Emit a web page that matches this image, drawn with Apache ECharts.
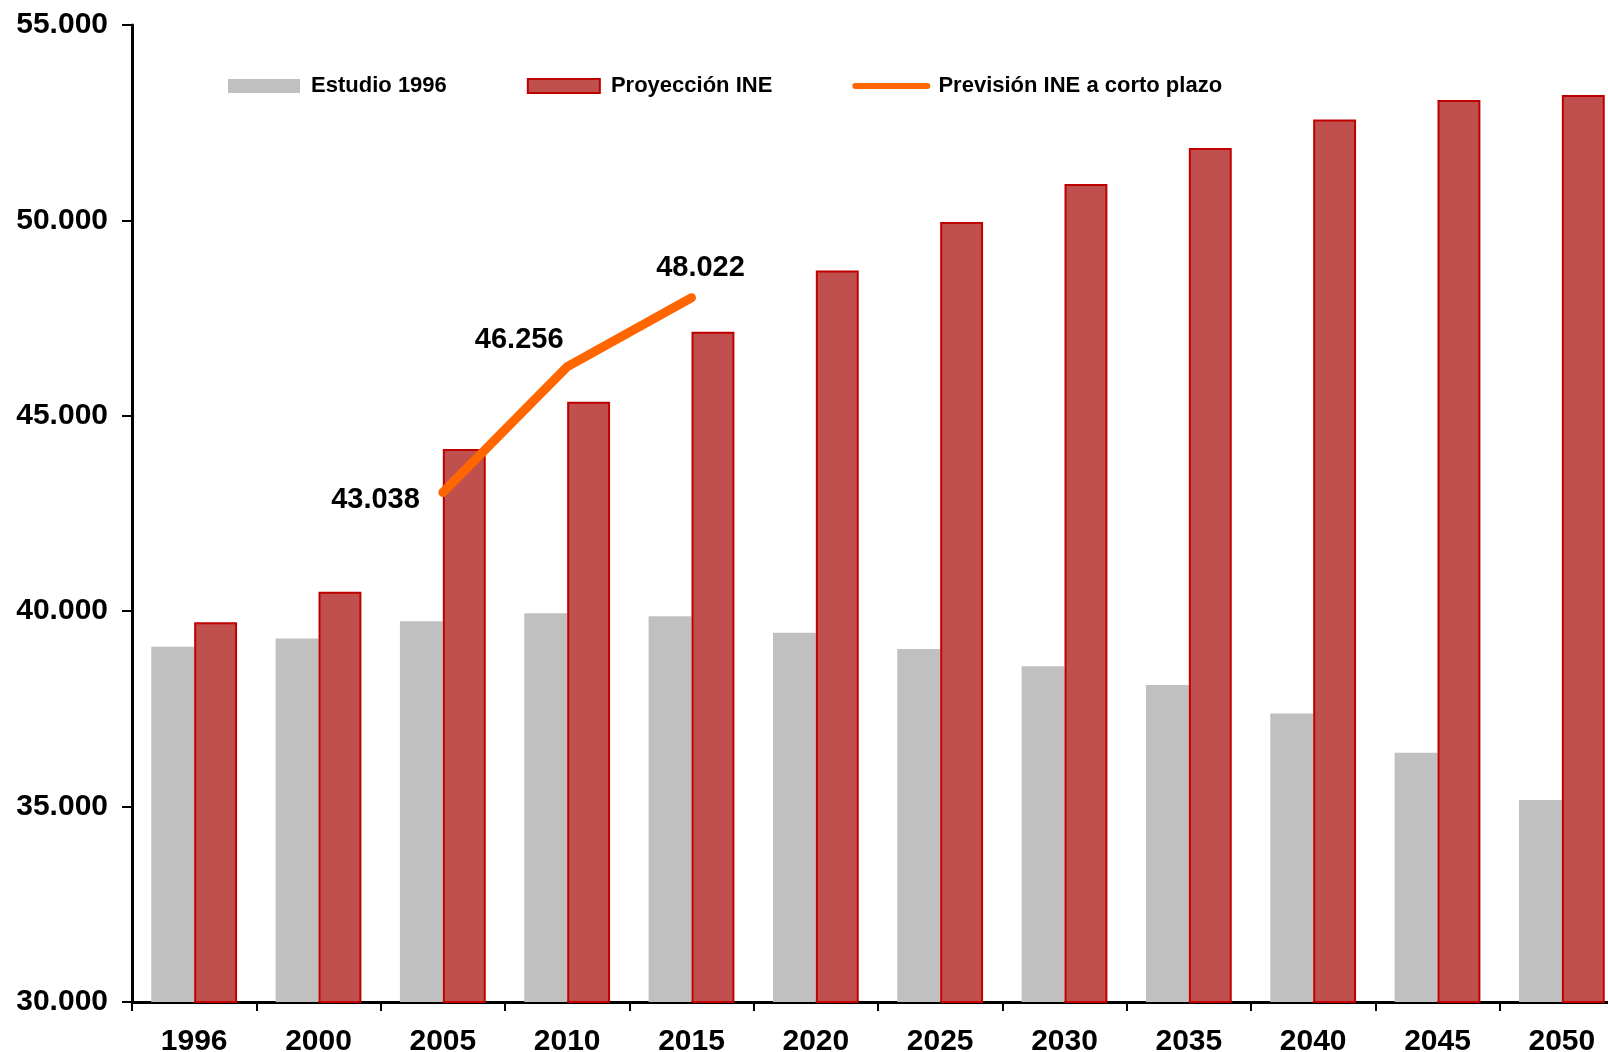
<!DOCTYPE html>
<html>
<head>
<meta charset="utf-8">
<script src="https://cdn.jsdelivr.net/npm/echarts@6/dist/echarts.min.js"></script>
<style>html,body{margin:0;padding:0;background:#fff;overflow:hidden}#c{width:1608px;height:1052px}</style>
</head>
<body>
<div id="c"></div>
<script>
const categories = ['1996','2000','2005','2010','2015','2020','2025','2030','2035','2040','2045','2050'];
const estudio1996 = [39090, 39300, 39740, 39950, 39870, 39450, 39030, 38590, 38110, 37380, 36380, 35170];
const proyeccionINE = [39720, 40500, 44150, 45360, 47150, 48720, 49960, 50930, 51850, 52580, 53080, 53210];
const prevision = [null, null, 43038, 46256, 48022, null, null, null, null, null, null, null];
const yTicks = { min: 30000, max: 55000, interval: 5000 };
const seriesNames = ['Estudio 1996', 'Proyección INE', 'Previsión INE a corto plazo'];

const FONT = '"Liberation Sans", Arial, sans-serif';
const fmt = v => String(v).replace(/\B(?=(\d{3})+(?!\d))/g, '.');
const labelOffsets = [null, null, {position:'left', offset:[-18, 8]}, {position:'top', offset:[-48, -7]}, {position:'top', offset:[9, -10]}];

const chart = echarts.init(document.getElementById('c'));
chart.setOption({
  animation: false,
  backgroundColor: '#ffffff',
  grid: { left: 132, width: 1492, top: 25, bottom: 50, containLabel: false, outerBoundsMode: 'none' },
  legend: {
    left: 228, top: 75, padding: 0,
    itemWidth: 72, itemHeight: 14, itemGap: 80,
    formatter: n => ' ' + n,
    textStyle: { fontFamily: FONT, fontWeight: 'bold', fontSize: 22, color: '#000' },
    data: [
      { name: seriesNames[0], icon: 'rect' },
      { name: seriesNames[1], icon: 'rect' },
      { name: seriesNames[2], itemStyle: { opacity: 0 }, lineStyle: { width: 6, cap: 'round' } }
    ]
  },
  xAxis: {
    type: 'category',
    data: categories,
    axisLine: { lineStyle: { color: '#000', width: 3 } },
    axisTick: { show: true, length: 9, lineStyle: { color: '#000', width: 2 } },
    axisLabel: { fontFamily: FONT, fontWeight: 'bold', fontSize: 30, color: '#000', margin: 25 },
    splitLine: { show: false }
  },
  yAxis: {
    type: 'value',
    min: yTicks.min, max: yTicks.max, interval: yTicks.interval,
    axisLine: { show: true, lineStyle: { color: '#000', width: 3 } },
    axisTick: { show: true, length: 10, lineStyle: { color: '#000', width: 2 } },
    axisLabel: { fontFamily: FONT, fontWeight: 'bold', fontSize: 30, color: '#000', margin: 24, formatter: fmt },
    splitLine: { show: false }
  },
  series: [
    {
      name: seriesNames[0], type: 'bar', data: estudio1996,
      barWidth: '34.5%', barGap: '0%',
      itemStyle: { color: '#C0C0C0' }
    },
    {
      name: seriesNames[1], type: 'bar', data: proyeccionINE,
      barWidth: '34.5%', barGap: '0%',
      itemStyle: { color: '#C0504D', borderColor: '#C00000', borderWidth: 2 }
    },
    {
      name: seriesNames[2], type: 'line',
      data: prevision.map((v, i) => v == null ? null : {
        value: v,
        label: Object.assign({ show: true }, labelOffsets[i])
      }),
      symbol: 'circle', symbolSize: 0.01, showSymbol: true,
      connectNulls: false,
      lineStyle: { color: '#FF6600', width: 9, cap: 'round', join: 'round' },
      itemStyle: { color: '#FF6600' },
      label: { show: true, fontFamily: FONT, fontWeight: 'bold', fontSize: 29, color: '#000', formatter: p => fmt(p.value) },
      z: 5
    }
  ]
});
</script>
</body>
</html>
